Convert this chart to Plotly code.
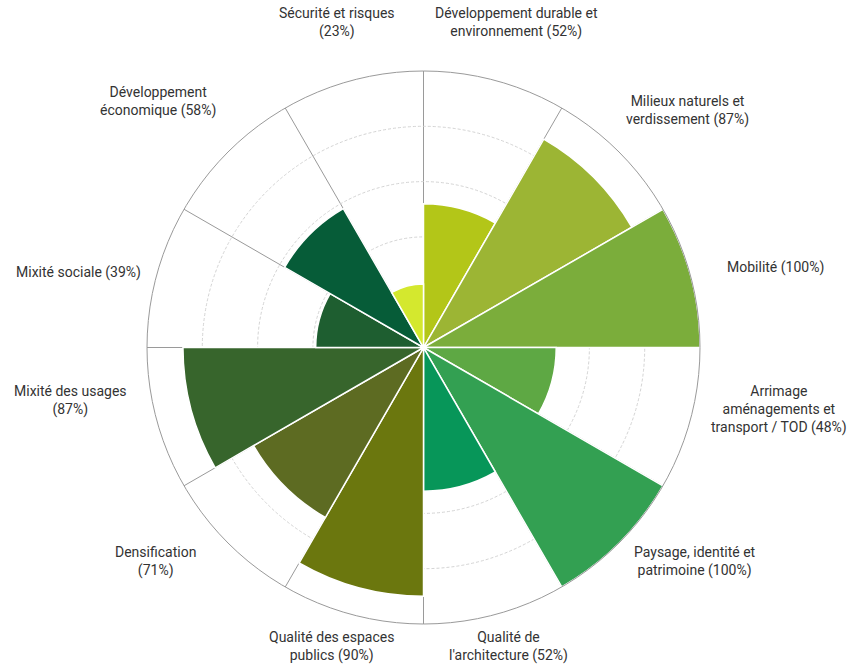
import plotly.graph_objects as go

# Themes, clockwise from the top
categories = [
    "Développement durable et<br>environnement (52%)",
    "Milieux naturels et<br>verdissement (87%)",
    "Mobilité (100%)",
    "Arrimage<br>aménagements et<br>transport / TOD (48%)",
    "Paysage, identité et<br>patrimoine (100%)",
    "Qualité de<br>l'architecture (52%)",
    "Qualité des espaces<br>publics (90%)",
    "Densification<br>(71%)",
    "Mixité des usages<br>(87%)",
    "Mixité sociale (39%)",
    "Développement<br>économique (58%)",
    "Sécurité et risques<br>(23%)",
]
scores = [52, 87, 100, 48, 100, 52, 90, 71, 87, 39, 58, 23]

colors = [
    "#b3c618", "#9cb534", "#7bad3b", "#5ea844", "#33a052", "#079659",
    "#6b770e", "#5d6b22", "#37652c", "#1e5e30", "#065c38", "#d4e82e",
]

W, H = 847, 671
CX, CY, R = 423.5, 347.5, 276.5   # chart centre and radius in pixels

n = len(categories)
step = 360 / n
theta_mid = [step * i + step / 2 for i in range(n)]
sector_edges = [step * i for i in range(n)]

fig = go.Figure()
fig.add_trace(go.Barpolar(
    r=scores, theta=theta_mid, width=[step] * n,
    marker=dict(color=colors, line=dict(color="white", width=1.5)),
    showlegend=False,
))

# Label centres, as pixel offsets from the chart centre
label_offsets = [
    (93, -325), (264, -237), (352, -80), (355, 62),
    (271, 214), (85, 299), (-92, 299), (-268, 214),
    (-353, 53), (-345, -75), (-266, -246), (-87, -325),
]
annotations = []
for text, (dx, dy) in zip(categories, label_offsets):
    annotations.append(dict(
        text=text, x=(CX + dx) / W, y=1 - (CY + dy) / H,
        xref="paper", yref="paper", xanchor="center", yanchor="middle",
        showarrow=False, align="center",
        font=dict(family="Roboto", size=14, color="#333333"),
    ))

fig.update_layout(
    width=W, height=H,
    margin=dict(l=0, r=0, t=0, b=0),
    paper_bgcolor="white",
    polar=dict(
        domain=dict(x=[(CX - R) / W, (CX + R) / W],
                    y=[1 - (CY + R) / H, 1 - (CY - R) / H]),
        bgcolor="white",
        angularaxis=dict(
            rotation=90, direction="clockwise", thetaunit="degrees",
            tickmode="array", tickvals=sector_edges,
            showgrid=True, gridcolor="#9a9a9a", gridwidth=1.2,
            showticklabels=False, ticks="",
            showline=True, linecolor="#9a9a9a", linewidth=1,
        ),
        radialaxis=dict(
            range=[0, 100], tickvals=[20, 40, 60, 80],
            showticklabels=False, ticks="", showline=False,
            gridcolor="#d4d4d4", gridwidth=1, griddash="3px,2px",
        ),
    ),
    annotations=annotations,
)

fig.write_html("out.html")
